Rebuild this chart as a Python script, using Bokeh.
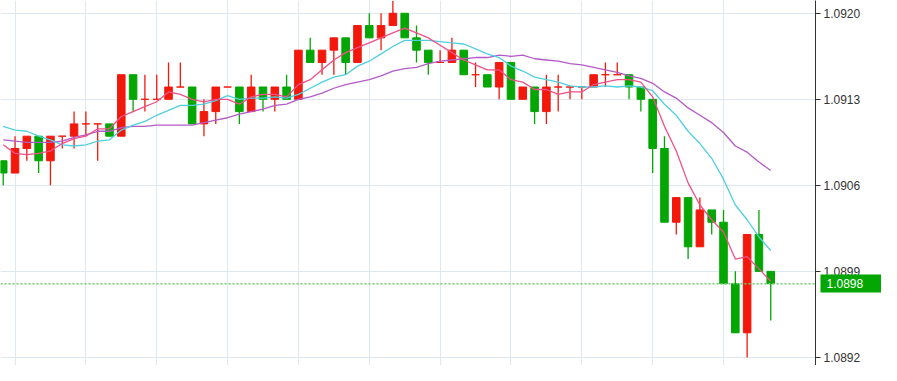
from bokeh.plotting import figure
from bokeh.models import Range1d, FixedTicker, Span, ColumnDataSource, LinearAxis
from bokeh.embed import file_html
from bokeh.resources import INLINE

# ---- data ----
opens = [1.0908, 1.0907, 1.0909, 1.0910, 1.0908, 1.0910, 1.0910, 1.0911, 1.0911, 1.0911,
         1.0910, 1.0915, 1.0913, 1.0913, 1.0913, 1.0914, 1.0914, 1.0911, 1.0912, 1.0914,
         1.0914, 1.0912, 1.0914, 1.0913, 1.0914, 1.0913, 1.0917, 1.0916, 1.0917, 1.0918,
         1.0916, 1.0919, 1.0918, 1.0919, 1.0920, 1.0918, 1.0917, 1.0916, 1.0916, 1.0917,
         1.0915, 1.0915, 1.0914, 1.0916, 1.0913, 1.0914, 1.0912, 1.0914, 1.0914, 1.0914,
         1.0914, 1.0915, 1.0915, 1.0915, 1.0914, 1.0913, 1.0909, 1.0903, 1.0905, 1.0901,
         1.0904, 1.0903, 1.0898, 1.0894, 1.0902, 1.0899]
highs = [1.0908, 1.0910, 1.0910, 1.0910, 1.0910, 1.0910, 1.0912, 1.0912, 1.0911, 1.0911,
         1.0915, 1.0915, 1.0915, 1.0915, 1.0916, 1.0916, 1.0914, 1.0913, 1.0914, 1.0914,
         1.0914, 1.0915, 1.0914, 1.0914, 1.0915, 1.0917, 1.0918, 1.0917, 1.0918, 1.0918,
         1.0919, 1.0920, 1.0920, 1.0921, 1.0920, 1.0919, 1.0917, 1.0917, 1.0918, 1.0917,
         1.0916, 1.0915, 1.0916, 1.0916, 1.0914, 1.0914, 1.0915, 1.0915, 1.0914, 1.0914,
         1.0915, 1.0916, 1.0916, 1.0915, 1.0914, 1.0913, 1.0910, 1.0905, 1.0905, 1.0905,
         1.0904, 1.0904, 1.0899, 1.0902, 1.0904, 1.0899]
lows = [1.0906, 1.0907, 1.0908, 1.0907, 1.0906, 1.0909, 1.0909, 1.0910, 1.0908, 1.0910,
        1.0910, 1.0912, 1.0912, 1.0913, 1.0913, 1.0914, 1.0911, 1.0910, 1.0911, 1.0914,
        1.0911, 1.0912, 1.0912, 1.0912, 1.0913, 1.0913, 1.0916, 1.0915, 1.0915, 1.0915,
        1.0916, 1.0918, 1.0917, 1.0919, 1.0918, 1.0916, 1.0915, 1.0916, 1.0916, 1.0915,
        1.0914, 1.0914, 1.0913, 1.0913, 1.0913, 1.0911, 1.0911, 1.0912, 1.0913, 1.0913,
        1.0914, 1.0914, 1.0915, 1.0913, 1.0912, 1.0907, 1.0903, 1.0902, 1.0900, 1.0901,
        1.0902, 1.0898, 1.0894, 1.0892, 1.0899, 1.0895]
closes = [1.0907, 1.0909, 1.0910, 1.0908, 1.0910, 1.0910, 1.0911, 1.0911, 1.0911, 1.0910,
          1.0915, 1.0913, 1.0913, 1.0913, 1.0914, 1.0914, 1.0911, 1.0912, 1.0914, 1.0914,
          1.0912, 1.0914, 1.0913, 1.0914, 1.0913, 1.0917, 1.0916, 1.0917, 1.0918, 1.0916,
          1.0919, 1.0918, 1.0919, 1.0920, 1.0918, 1.0917, 1.0916, 1.0916, 1.0917, 1.0915,
          1.0915, 1.0914, 1.0916, 1.0913, 1.0914, 1.0912, 1.0914, 1.0914, 1.0914, 1.0914,
          1.0915, 1.0915, 1.0915, 1.0914, 1.0913, 1.0909, 1.0903, 1.0905, 1.0901, 1.0904,
          1.0903, 1.0898, 1.0894, 1.0902, 1.0899, 1.0898]

ma_fast = [1.09093, 1.09086, 1.09085, 1.09086, 1.09088, 1.09094, 1.09098, 1.09100, 1.09106, 1.09106,
           1.09116, 1.09120, 1.09124, 1.09128, 1.09136, 1.09134, 1.09130, 1.09128, 1.09130, 1.09130,
           1.09126, 1.09132, 1.09134, 1.09134, 1.09132, 1.09142, 1.09146, 1.09154, 1.09162, 1.09168,
           1.09172, 1.09176, 1.09180, 1.09184, 1.09188, 1.09184, 1.09180, 1.09174, 1.09168, 1.09162,
           1.09158, 1.09154, 1.09154, 1.09146, 1.09144, 1.09138, 1.09138, 1.09134, 1.09136, 1.09136,
           1.09142, 1.09144, 1.09146, 1.09146, 1.09144, 1.09132, 1.09108, 1.09088, 1.09062, 1.09044,
           1.09032, 1.09022, 1.09000, 1.09002, 1.08992, 1.08982]
ma_mid = [1.09108, 1.09105, 1.09104, 1.09100, 1.09097, 1.09093, 1.09092, 1.09093, 1.09096, 1.09097,
          1.09105, 1.09109, 1.09112, 1.09117, 1.09121, 1.09125, 1.09125, 1.09126, 1.09129, 1.09133,
          1.09130, 1.09131, 1.09131, 1.09132, 1.09131, 1.09134, 1.09139, 1.09144, 1.09148, 1.09150,
          1.09157, 1.09161, 1.09167, 1.09173, 1.09178, 1.09178, 1.09178, 1.09177, 1.09176, 1.09175,
          1.09171, 1.09167, 1.09164, 1.09157, 1.09153, 1.09148, 1.09146, 1.09144, 1.09141, 1.09140,
          1.09140, 1.09141, 1.09140, 1.09141, 1.09140, 1.09137, 1.09126, 1.09117, 1.09104, 1.09094,
          1.09082, 1.09065, 1.09044, 1.09032, 1.09018, 1.09007]
ma_slow = [1.09097, 1.09096, 1.09095, 1.09095, 1.09095, 1.09096, 1.09099, 1.09101, 1.09104, 1.09104,
           1.09107, 1.09108, 1.09108, 1.09109, 1.09109, 1.09109, 1.09109, 1.09111, 1.09113, 1.09115,
           1.09118, 1.09120, 1.09122, 1.09125, 1.09126, 1.09130, 1.09132, 1.09135, 1.09139, 1.09142,
           1.09144, 1.09146, 1.09149, 1.09153, 1.09155, 1.09156, 1.09159, 1.09161, 1.09162, 1.09163,
           1.09164, 1.09164, 1.09166, 1.09165, 1.09166, 1.09163, 1.09162, 1.09161, 1.09159, 1.09158,
           1.09156, 1.09154, 1.09152, 1.09149, 1.09147, 1.09143, 1.09136, 1.09131, 1.09123, 1.09117,
           1.09111, 1.09103, 1.09092, 1.09087, 1.09079, 1.09072]

y_ticks = [1.0892, 1.0899, 1.0906, 1.0913, 1.0920]
y_tick_labels = ["1.0892", "1.0899", "1.0906", "1.0913", "1.0920"]
x_grid = [1, 7, 13, 19, 25, 31, 37, 43, 49, 55, 61]
last_price = 1.0898
last_price_label = "1.0898"

# ---- styling ----
UP = "#f2180c"
DOWN = "#03a603"
FONT = "Liberation Sans"

idx = list(range(len(closes)))
cols = [UP if c >= o else DOWN for o, c in zip(opens, closes)]
tops = [max(o, c) for o, c in zip(opens, closes)]
bots = [min(o, c) for o, c in zip(opens, closes)]
src = ColumnDataSource(dict(x=idx, o=opens, h=highs, l=lows, c=closes,
                            top=tops, bot=bots, col=cols))

p = figure(width=881, height=365, output_backend="svg", toolbar_location=None,
           x_range=Range1d(-0.23, 68.79), y_range=Range1d(1.089134, 1.092104),
           x_axis_location=None, y_axis_location="right",
           min_border_left=0, min_border_top=0, min_border_bottom=0, min_border_right=66)
p.outline_line_color = None
p.background_fill_color = "white"
p.border_fill_color = "white"

p.xgrid.ticker = FixedTicker(ticks=x_grid)
p.ygrid.ticker = FixedTicker(ticks=y_ticks)
p.grid.grid_line_color = "#dde8f0"
p.grid.grid_line_width = 1

ax = p.yaxis[0]
ax.ticker = FixedTicker(ticks=y_ticks)
ax.major_label_overrides = {t: s for t, s in zip(y_ticks, y_tick_labels)}
ax.axis_line_color = "#333333"
ax.major_tick_line_color = "#333333"
ax.major_tick_out = 5
ax.major_tick_in = 0
ax.minor_tick_line_color = None
ax.major_label_standoff = 3
ax.major_label_text_font = FONT
ax.major_label_text_font_size = "12px"
ax.major_label_text_color = "#333333"

# wicks and bodies
p.segment(x0="x", x1="x", y0="l", y1="h", source=src, line_color="col", line_width=1.3)
p.vbar(x="x", width=0.64, top="top", bottom="bot", source=src,
       fill_color="col", line_color="col", line_width=1)

# moving averages
p.line(idx, ma_slow, line_color="#b45ac6", line_width=1.3)
p.line(idx, ma_mid, line_color="#4fcfe0", line_width=1.3)
p.line(idx, ma_fast, line_color="#f0508a", line_width=1.3)

# last price dotted line
p.add_layout(Span(location=last_price, dimension="width", line_color="#6cc96c",
                  line_dash="2 2", line_width=1.5))

# last price tag: an extra right axis whose single thick tick forms the green box
tag = LinearAxis(ticker=FixedTicker(ticks=[last_price]),
                 major_label_overrides={last_price: last_price_label})
tag.axis_line_color = None
tag.minor_tick_line_color = None
tag.major_tick_line_color = DOWN
tag.major_tick_line_width = 18
tag.major_tick_in = 43
tag.major_tick_out = 33
tag.major_label_standoff = -70
tag.major_label_text_font = FONT
tag.major_label_text_font_size = "12px"
tag.major_label_text_color = "white"
p.add_layout(tag, "right")

open("out.html", "w").write(file_html(p, INLINE))
